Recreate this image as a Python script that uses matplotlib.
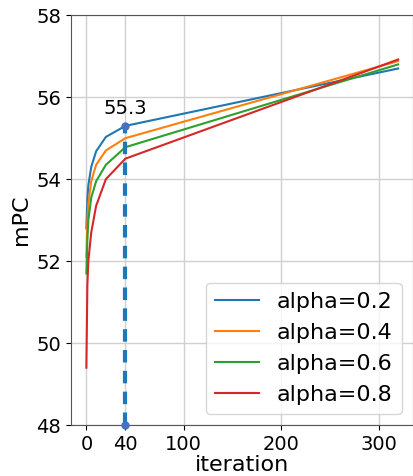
import matplotlib
matplotlib.use("Agg")
import matplotlib.pyplot as plt

iterations = [0, 1, 2, 5, 10, 20, 40, 320]
alpha_02 = [52.8, 53.5, 53.85, 54.3, 54.68, 55.03, 55.3, 56.7]
alpha_04 = [52.1, 53.0, 53.4, 53.95, 54.35, 54.7, 55.0, 56.88]
alpha_06 = [51.7, 52.5, 53.0, 53.55, 53.95, 54.35, 54.78, 56.8]
alpha_08 = [49.4, 51.4, 52.0, 52.7, 53.35, 54.0, 54.5, 56.92]
labels = ["alpha=0.2", "alpha=0.4", "alpha=0.6", "alpha=0.8"]
colors = ["#1f77b4", "#ff7f0e", "#2ca02c", "#d62728"]
mark_x = 40
mark_y = 55.3
xticks = [0, 40, 100, 200, 300]
yticks = [48, 50, 52, 54, 56, 58]

fig = plt.figure(figsize=(4.14, 4.76), dpi=100)
ax = fig.add_axes([0.171, 0.107, 0.826, 0.861])

for ys, lab, c in zip([alpha_02, alpha_04, alpha_06, alpha_08], labels, colors):
    ax.plot(iterations, ys, color=c, label=lab, linewidth=1.5)

ax.plot([mark_x, mark_x], [yticks[0], mark_y], linestyle=(0, (3, 2)), color="#1f77b4",
        linewidth=3, marker="o", markersize=5, markerfacecolor="#4472c4",
        markeredgecolor="#4472c4", clip_on=False, zorder=5)
ax.text(mark_x, mark_y + 0.2, f"{mark_y}", ha="center", va="bottom", fontsize=14)

ax.set_xlim(-16, 335)
ax.set_ylim(48, 58)
ax.set_xticks(xticks)
ax.set_yticks(yticks)
ax.tick_params(labelsize=14)
ax.grid(True, color="#d0d0d0", linewidth=1)
ax.set_axisbelow(True)
for s in ax.spines.values():
    s.set_color("#555555")
ax.set_xlabel("iteration", fontsize=16, labelpad=1)
ax.set_ylabel("mPC", fontsize=16)
ax.legend(loc="lower right", fontsize=16)

fig.savefig("out.png", dpi=100)
